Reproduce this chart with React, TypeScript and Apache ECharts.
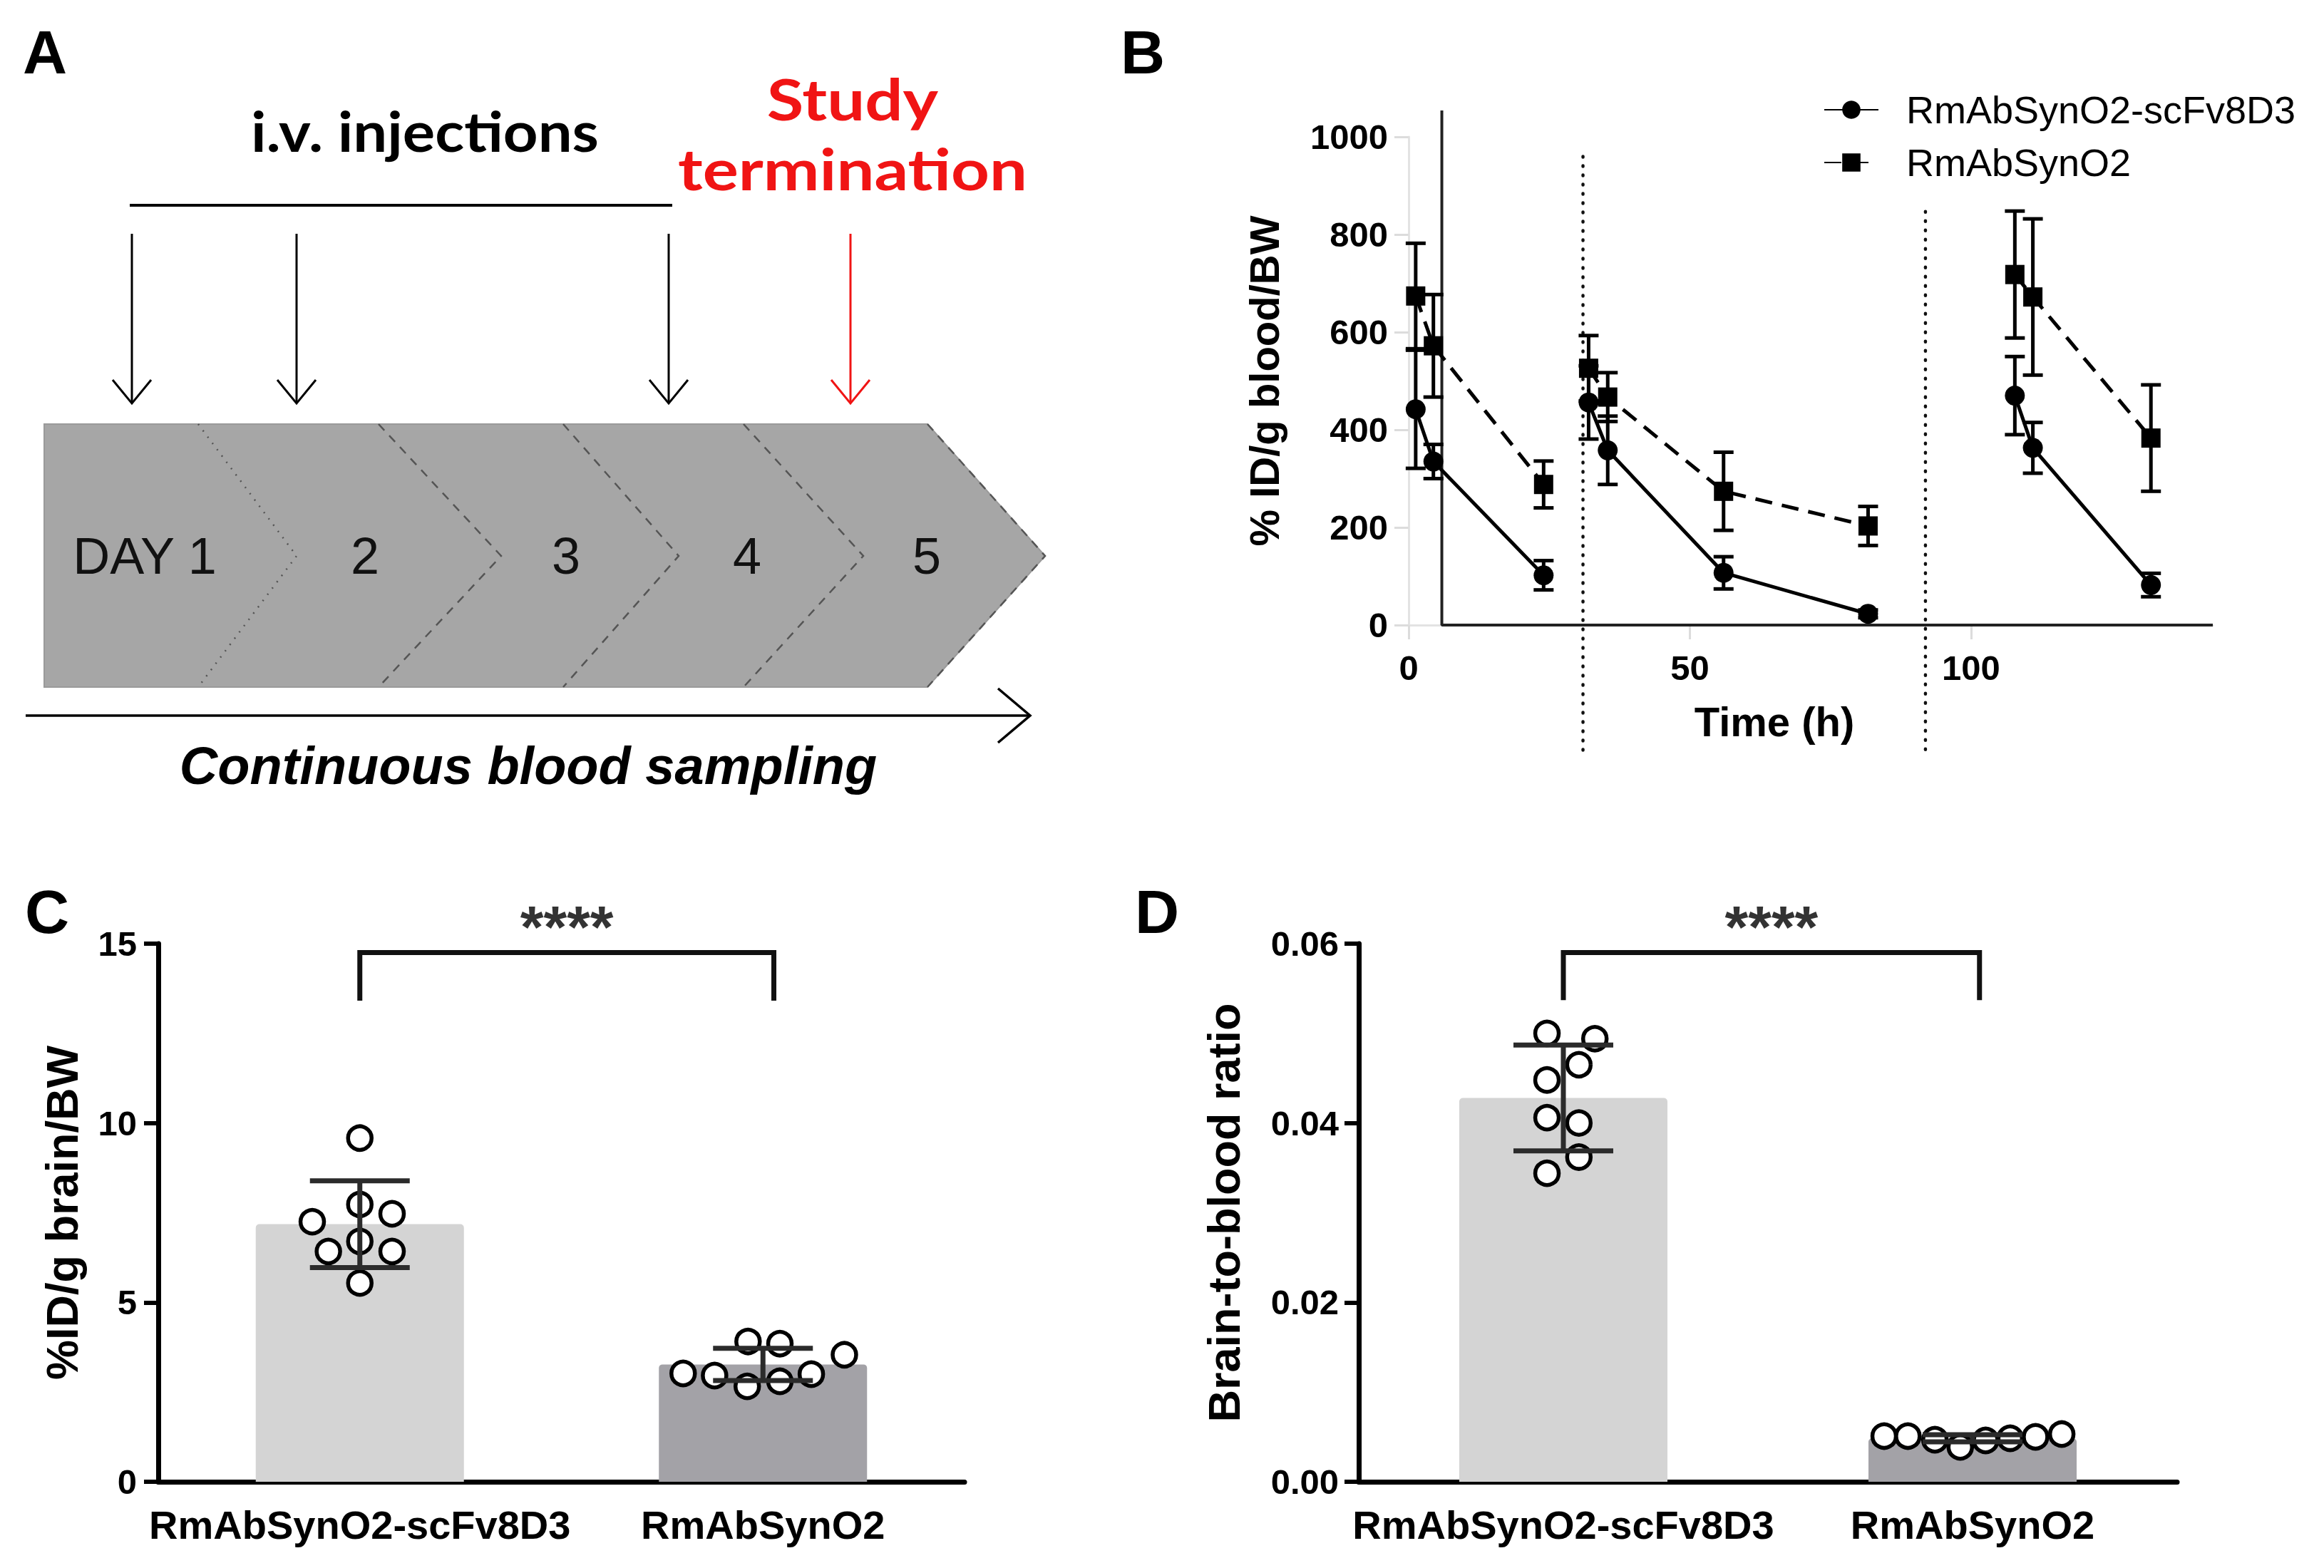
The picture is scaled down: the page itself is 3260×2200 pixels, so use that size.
import React, { useEffect, useRef } from "react";
import * as echarts from "echarts";

// ---------- Panel B data ----------
const bTime = [1.25, 4.4, 24, 32, 35.4, 56, 81.7, 107.8, 111, 132];
const bSegment = [0, 0, 0, 1, 1, 1, 1, 2, 2, 2];
const bFusionMean = [442, 335, 102, 456, 358, 107, 23, 470, 363, 82];
const bFusionSd = [121, 35, 30, 75, 70, 33, 8, 80, 52, 24];
const bParentMean = [674, 572, 288, 526, 467, 274, 203, 718, 672, 383];
const bParentSd = [108, 105, 48, 67, 50, 80, 40, 130, 160, 109];
const bInjectionX = [31, 91.9];
const bInjectionTop = [960, 847];
const bInjectionBottom = -261;
const bBreakX = 5.9;
const bBreakTop = 1054;
const bXTicks = [0, 50, 100];
const groupNames = ["RmAbSynO2-scFv8D3", "RmAbSynO2"];

// ---------- Panel C data ----------
const cCategories = ["RmAbSynO2-scFv8D3", "RmAbSynO2"];
const cMean = [7.18, 3.27];
const cSd = [1.21, 0.45];
const cPoints1 = [9.58, 7.73, 7.47, 7.25, 6.7, 6.42, 6.42, 5.54];
const cJitter1 = [0, 0, 0.08, -0.118, 0, -0.078, 0.08, 0];
const cPoints2 = [3.02, 2.96, 3.91, 3.85, 2.66, 2.8, 3.0, 3.54];
const cJitter2 = [-0.198, -0.12, -0.037, 0.042, -0.039, 0.042, 0.12, 0.202];
const cBracket = [13.41, 14.75];
const cStarsY = 15.45;

// ---------- Panel D data ----------
const dCategories = ["RmAbSynO2-scFv8D3", "RmAbSynO2"];
const dMean = [0.0428, 0.00485];
const dSd = [0.0059, 0.0004];
const dPoints1 = [0.05, 0.0494, 0.0465, 0.0448, 0.0406, 0.04, 0.0362, 0.0344];
const dJitter1 = [-0.04, 0.077, 0.038, -0.04, -0.04, 0.038, 0.038, -0.04];
const dPoints2 = [0.00509, 0.00509, 0.00469, 0.00389, 0.00461, 0.00485, 0.00501, 0.00532];
const dJitter2 = [-0.216, -0.158, -0.092, -0.03, 0.032, 0.092, 0.154, 0.218];
const dBracket = [0.0537, 0.059];
const dStarsY = 0.0618;

// ---------- Panel A texts ----------
const dayLabels = ["DAY 1", "2", "3", "4", "5"];
const injectionLabel = "i.v. injections";
const terminationLabel = ["Study", "termination"];
const samplingLabel = "Continuous blood sampling";
const panelLetters = ["A", "B", "C", "D"];

const FONT = "'Liberation Sans', Arial, Helvetica, sans-serif";
const LATO = "Lato, 'Open Sans', 'Liberation Sans', sans-serif";
const barColors = ["#d4d4d4", "#a3a2a7"];

function makeErr(cap: number, lw: number, color: string) {
  return (params: any, api: any) => {
    const x = api.value(0);
    const lo = api.coord([x, api.value(1)]);
    const hi = api.coord([x, api.value(2)]);
    const h = cap / 2;
    const style = { stroke: color, lineWidth: lw };
    return {
      type: "group",
      children: [
        { type: "line", shape: { x1: lo[0], y1: lo[1], x2: hi[0], y2: hi[1] }, style },
        { type: "line", shape: { x1: lo[0] - h, y1: lo[1], x2: lo[0] + h, y2: lo[1] }, style },
        { type: "line", shape: { x1: hi[0] - h, y1: hi[1], x2: hi[0] + h, y2: hi[1] }, style },
      ],
    };
  };
}

function txt(text: string, x: number, y: number, size: number, opts: any = {}) {
  return {
    type: "text",
    x,
    y,
    scaleY: opts.scaleY || 1,
    silent: true,
    style: {
      text,
      fontSize: size,
      lineHeight: opts.lineHeight || size,
      fontFamily: opts.family || FONT,
      fontWeight: opts.weight || "normal",
      fontStyle: opts.style || "normal",
      fill: opts.color || "#000",
      textAlign: opts.align || "center",
      align: opts.align || "center",
      textVerticalAlign: "middle",
      verticalAlign: "middle",
    },
  };
}

function panelAGraphics() {
  const g: any[] = [];
  g.push({
    type: "polygon",
    shape: { points: [[62, 595], [1301, 595], [1466, 780], [1301, 964], [62, 964]] },
    style: { fill: "#a6a6a6", stroke: "#9a9a9a", lineWidth: 2 },
    silent: true,
  });
  const dividers = [
    [278, 416],
    [531, 703],
    [790, 952],
    [1043, 1211],
    [1301, 1466],
  ];
  dividers.forEach(([a, b], i) => {
    g.push({
      type: "polyline",
      shape: { points: [[a, 595], [b, 780], [a, 964]] },
      style: {
        stroke: "#555",
        lineWidth: 2.5,
        fill: null,
        lineDash: i === 0 ? [2, 9] : [12, 10],
      },
      silent: true,
    });
  });
  const dayX = [203, 512, 794, 1048, 1300];
  dayLabels.forEach((d, i) => g.push(txt(d, dayX[i], 780, 72, { color: "#111" })));
  g.push({ type: "line", shape: { x1: 182, y1: 288, x2: 943, y2: 288 }, style: { stroke: "#000", lineWidth: 4 }, silent: true });
  const arrows = [
    [185, "#000"],
    [416, "#000"],
    [938, "#000"],
    [1193, "#f01414"],
  ];
  arrows.forEach(([x, c]: any) => {
    g.push({ type: "line", shape: { x1: x, y1: 328, x2: x, y2: 566 }, style: { stroke: c, lineWidth: 3 }, silent: true });
    g.push({
      type: "polyline",
      shape: { points: [[x - 27, 533], [x, 566], [x + 27, 533]] },
      style: { stroke: c, lineWidth: 3, fill: null },
      silent: true,
    });
  });
  g.push(txt(injectionLabel, 596, 182, 85, { family: LATO, weight: "bold", scaleY: 0.92 }));
  g.push(txt(terminationLabel[0], 1196, 138, 94, { family: LATO, weight: "bold", color: "#f01414", scaleY: 0.85 }));
  g.push(txt(terminationLabel[1], 1196, 236, 94, { family: LATO, weight: "bold", color: "#f01414", scaleY: 0.85 }));
  g.push({ type: "line", shape: { x1: 36, y1: 1004, x2: 1445, y2: 1004 }, style: { stroke: "#000", lineWidth: 3.5 }, silent: true });
  g.push({
    type: "polyline",
    shape: { points: [[1400, 966], [1445, 1004], [1400, 1042]] },
    style: { stroke: "#000", lineWidth: 3.5, fill: null },
    silent: true,
  });
  g.push(txt(samplingLabel, 741, 1074, 74, { weight: "bold", style: "italic" }));
  const letterPos = [
    [32, 73],
    [1572, 73],
    [35, 1279],
    [1592, 1279],
  ];
  panelLetters.forEach((l, i) =>
    g.push(txt(l, letterPos[i][0], letterPos[i][1], 86, { weight: "bold", align: "left" }))
  );
  return g;
}

function buildOption(): any {
  const axisLabelBold = { fontSize: 49, fontWeight: "bold", fontFamily: FONT, color: "#000" };
  const nameStyleB = { fontSize: 58, fontWeight: "bold", fontFamily: FONT, color: "#000" };
  const nameStyleCD = { fontSize: 63, fontWeight: "bold", fontFamily: FONT, color: "#000" };
  const series: any[] = [];

  // ---- Panel B ----
  const means = [bFusionMean, bParentMean];
  const sds = [bFusionSd, bParentSd];
  [0, 1, 2].forEach((seg) => {
    [0, 1].forEach((g) => {
      const pts: number[][] = [];
      bTime.forEach((t, i) => {
        if (bSegment[i] === seg) pts.push([t, means[g][i]]);
      });
      series.push({
        type: "line",
        name: groupNames[g],
        xAxisIndex: 0,
        yAxisIndex: 0,
        data: pts,
        symbol: g === 0 ? "circle" : "rect",
        symbolSize: g === 0 ? 28 : 27,
        itemStyle: { color: "#000" },
        lineStyle: { color: "#000", width: 5, type: g === 0 ? "solid" : [24, 14] },
        z: 5,
        silent: true,
      });
    });
  });
  [0, 1].forEach((g) => {
    series.push({
      type: "custom",
      xAxisIndex: 0,
      yAxisIndex: 0,
      data: bTime.map((t, i) => [t, means[g][i] - sds[g][i], means[g][i] + sds[g][i]]),
      encode: { x: 0, y: [1, 2] },
      renderItem: makeErr(28, 5, "#000"),
      z: 4,
      silent: true,
    });
  });
  series.push({
    type: "line",
    xAxisIndex: 0,
    yAxisIndex: 0,
    data: [[bBreakX, bBreakTop], [bBreakX, 0], [143, 0]],
    symbol: "none",
    clip: false,
    lineStyle: { color: "#222", width: 4 },
    z: 3,
    silent: true,
  });
  bInjectionX.forEach((x, i) => {
    series.push({
      type: "line",
      xAxisIndex: 0,
      yAxisIndex: 0,
      data: [[x, bInjectionTop[i]], [x, bInjectionBottom]],
      symbol: "none",
      clip: false,
      lineStyle: { color: "#111", width: 4.5, type: [1, 12], cap: "round" },
      z: 3,
      silent: true,
    });
  });

  // ---- Panels C & D ----
  const panels = [
    { cat: 1, val: 2, y: 1, mean: cMean, sd: cSd, p1: cPoints1, j1: cJitter1, p2: cPoints2, j2: cJitter2, br: cBracket, st: cStarsY, brRight: 1.527 },
    { cat: 3, val: 4, y: 2, mean: dMean, sd: dSd, p1: dPoints1, j1: dJitter1, p2: dPoints2, j2: dJitter2, br: dBracket, st: dStarsY, brRight: 1.517 },
  ];
  panels.forEach((p) => {
    series.push({
      type: "bar",
      xAxisIndex: p.cat,
      yAxisIndex: p.y,
      barWidth: 292,
      data: p.mean.map((v, i) => ({ value: v, itemStyle: { color: barColors[i], borderRadius: [5, 5, 0, 0] } })),
      z: 2,
      silent: true,
    });
    const pts: number[][] = [];
    p.p1.forEach((v, i) => pts.push([0.5 + p.j1[i], v]));
    p.p2.forEach((v, i) => pts.push([1.5 + p.j2[i], v]));
    series.push({
      type: "scatter",
      xAxisIndex: p.val,
      yAxisIndex: p.y,
      data: pts,
      symbol: "circle",
      symbolSize: 33,
      itemStyle: { color: "#fff", borderColor: "#000", borderWidth: 5.5, opacity: 1 },
      z: 3,
      silent: true,
    });
    series.push({
      type: "custom",
      xAxisIndex: p.val,
      yAxisIndex: p.y,
      data: p.mean.map((m, i) => [0.5 + i, m - p.sd[i], m + p.sd[i]]),
      encode: { x: 0, y: [1, 2] },
      renderItem: makeErr(140, 7, "#2b2b2b"),
      z: 4,
      silent: true,
    });
    series.push({
      type: "line",
      xAxisIndex: p.val,
      yAxisIndex: p.y,
      data: [[0.5, p.br[0]], [0.5, p.br[1]], [p.brRight, p.br[1]], [p.brRight, p.br[0]]],
      symbol: "none",
      clip: false,
      lineStyle: { color: "#111", width: 7, join: "miter" },
      z: 4,
      silent: true,
    });
    series.push({
      type: "scatter",
      xAxisIndex: p.val,
      yAxisIndex: p.y,
      data: [[(0.5 + p.brRight) / 2, p.st]],
      symbolSize: 1,
      clip: false,
      itemStyle: { color: "rgba(0,0,0,0)" },
      label: { show: true, position: "inside", formatter: "****", fontSize: 84, fontWeight: "bold", fontFamily: FONT, color: "#000" },
      z: 5,
      silent: true,
    });
  });

  const catAxis = (grid: number, cats: string[]) => ({
    type: "category",
    gridIndex: grid,
    data: cats,
    axisLine: { lineStyle: { color: "#000", width: 7 } },
    axisTick: { alignWithLabel: true, length: 22, lineStyle: { color: "#000", width: 6 } },
    axisLabel: { ...axisLabelBold, fontSize: 56, margin: 32, interval: 0, hideOverlap: false },
    splitLine: { show: false },
  });
  const hiddenVal = (grid: number) => ({ type: "value", gridIndex: grid, min: 0, max: 2, show: false });

  return {
    animation: false,
    backgroundColor: "#fff",
    textStyle: { fontFamily: FONT },
    grid: [
      { left: 1976, top: 192, width: 1128, height: 685 },
      { left: 222, top: 1324, width: 1131, height: 755 },
      { left: 1906, top: 1324, width: 1148, height: 755 },
    ],
    legend: {
      data: groupNames,
      orient: "vertical",
      left: 2553,
      top: 122,
      itemWidth: 76,
      itemHeight: 32,
      itemGap: 20,
      selectedMode: false,
      textStyle: { fontSize: 54, fontFamily: FONT, color: "#000", padding: [0, 0, 0, 34] },
    },
    xAxis: [
      {
        type: "value",
        gridIndex: 0,
        min: 0,
        max: 143,
        interval: 50,
        name: "Time (h)",
        nameLocation: "middle",
        nameGap: 106,
        nameTextStyle: { ...nameStyleB, padding: [0, 102, 0, 0] },
        axisLine: { lineStyle: { color: "#e3e3e3", width: 3 } },
        axisTick: { customValues: bXTicks, length: 20, lineStyle: { color: "#dcdcdc", width: 3 } },
        axisLabel: { ...axisLabelBold, margin: 35, customValues: bXTicks },
        splitLine: { show: false },
      },
      catAxis(1, cCategories),
      hiddenVal(1),
      catAxis(2, dCategories),
      hiddenVal(2),
    ],
    yAxis: [
      {
        type: "value",
        gridIndex: 0,
        min: 0,
        max: 1000,
        interval: 200,
        name: "% ID/g blood/BW",
        nameLocation: "middle",
        nameGap: 174,
        nameTextStyle: nameStyleB,
        axisLine: { show: true, lineStyle: { color: "#e3e3e3", width: 3 } },
        axisTick: { show: true, length: 20, lineStyle: { color: "#dcdcdc", width: 3 } },
        axisLabel: { ...axisLabelBold, margin: 29, formatter: (v: number) => String(v) },
        splitLine: { show: false },
      },
      {
        type: "value",
        gridIndex: 1,
        min: 0,
        max: 15,
        interval: 5,
        name: "%ID/g brain/BW",
        nameLocation: "middle",
        nameGap: 104,
        nameTextStyle: nameStyleCD,
        axisLine: { show: true, lineStyle: { color: "#000", width: 7 } },
        axisTick: { show: true, length: 20, lineStyle: { color: "#000", width: 6 } },
        axisLabel: { ...axisLabelBold, margin: 30 },
        splitLine: { show: false },
      },
      {
        type: "value",
        gridIndex: 2,
        min: 0,
        max: 0.06,
        interval: 0.02,
        name: "Brain-to-blood ratio",
        nameLocation: "middle",
        nameGap: 158,
        nameTextStyle: nameStyleCD,
        axisLine: { show: true, lineStyle: { color: "#000", width: 7 } },
        axisTick: { show: true, length: 20, lineStyle: { color: "#000", width: 6 } },
        axisLabel: { ...axisLabelBold, margin: 28, formatter: (v: number) => v.toFixed(2) },
        splitLine: { show: false },
      },
    ],
    graphic: panelAGraphics(),
    series,
  };
}

export default function App() {
  const ref = useRef<HTMLDivElement>(null);
  useEffect(() => {
    document.body.style.margin = "0";
    const chart = echarts.init(ref.current as HTMLDivElement, null, { renderer: "svg" });
    chart.setOption(buildOption());
    return () => chart.dispose();
  }, []);
  return (
    <div
      ref={ref}
      style={{ position: "absolute", left: 0, top: 0, width: 3260, height: 2200, background: "#fff" }}
    />
  );
}
